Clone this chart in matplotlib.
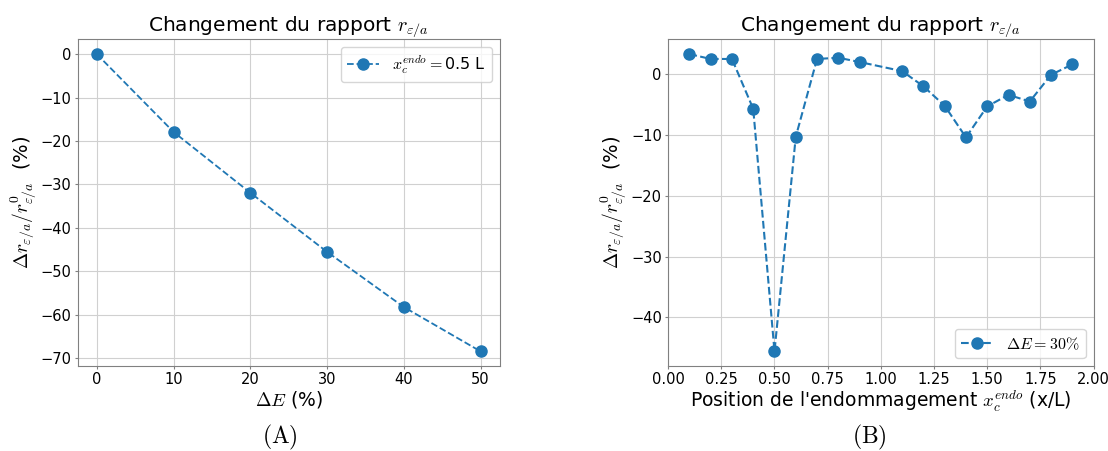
import numpy as np
import matplotlib.pyplot as plt

plt.rcParams['mathtext.fontset'] = 'cm'

# (A) variation with damage level, x_c = 0.5 L
dE = [0, 10, 20, 30, 40, 50]
rA = [0, -17.9, -31.9, -45.5, -58.2, -68.4]

# (B) variation with damage position, dE = 30 %
pos = [0.1, 0.2, 0.3, 0.4, 0.5, 0.6, 0.7, 0.8, 0.9,
       1.1, 1.2, 1.3, 1.4, 1.5, 1.6, 1.7, 1.8, 1.9]
rB = [3.3, 2.5, 2.5, -5.7, -45.6, -10.3, 2.5, 2.7, 2.0,
      0.5, -2.0, -5.2, -10.4, -5.3, -3.4, -4.5, -0.1, 1.6]

ylab = r'$\Delta r_{\varepsilon/a}/r^0_{\varepsilon/a}$  (%)'
titre = r'Changement du rapport $r_{\varepsilon/a}$'

fig = plt.figure(figsize=(11.08, 4.51), dpi=100)
ax1 = fig.add_axes([0.070, 0.188, 0.381, 0.725])
ax2 = fig.add_axes([0.603, 0.188, 0.384, 0.725])

ax1.plot(dE, rA, '--o', color='#1f77b4', lw=1.3, ms=8, label=r'$x_c^{endo} = $0.5 L')
ax1.set_xlabel(r'$\Delta E$ (%)', fontsize=13.5, labelpad=1)
ax1.legend(loc='upper right', fontsize=11.5)

ax2.plot(pos, rB, '--o', color='#1f77b4', lw=1.5, ms=8, label=r'$\Delta E = 30\%$')
ax2.set_xlim(0, 2)
ax2.set_xticks(np.arange(0, 2.01, 0.25))
ax2.set_xlabel(r"Position de l'endommagement $x_c^{endo}$ (x/L)", fontsize=13.5, labelpad=1)
ax2.legend(loc='lower right', fontsize=11.5)

for ax in (ax1, ax2):
    ax.set_title(titre, fontsize=14.5)
    ax.set_ylabel(ylab, fontsize=14, labelpad=2)
    ax.grid(True, color='#d0d0d0')
    ax.set_axisbelow(True)
    ax.tick_params(labelsize=10.5, color='#808080', length=2.5, pad=2)
    for s in ax.spines.values():
        s.set_color('#808080')

fig.text(0.253, 0.03, r'$(\mathrm{A})$', ha='center', va='center', fontsize=17)
fig.text(0.785, 0.03, r'$(\mathrm{B})$', ha='center', va='center', fontsize=17)

fig.savefig('out.png', dpi=100)
